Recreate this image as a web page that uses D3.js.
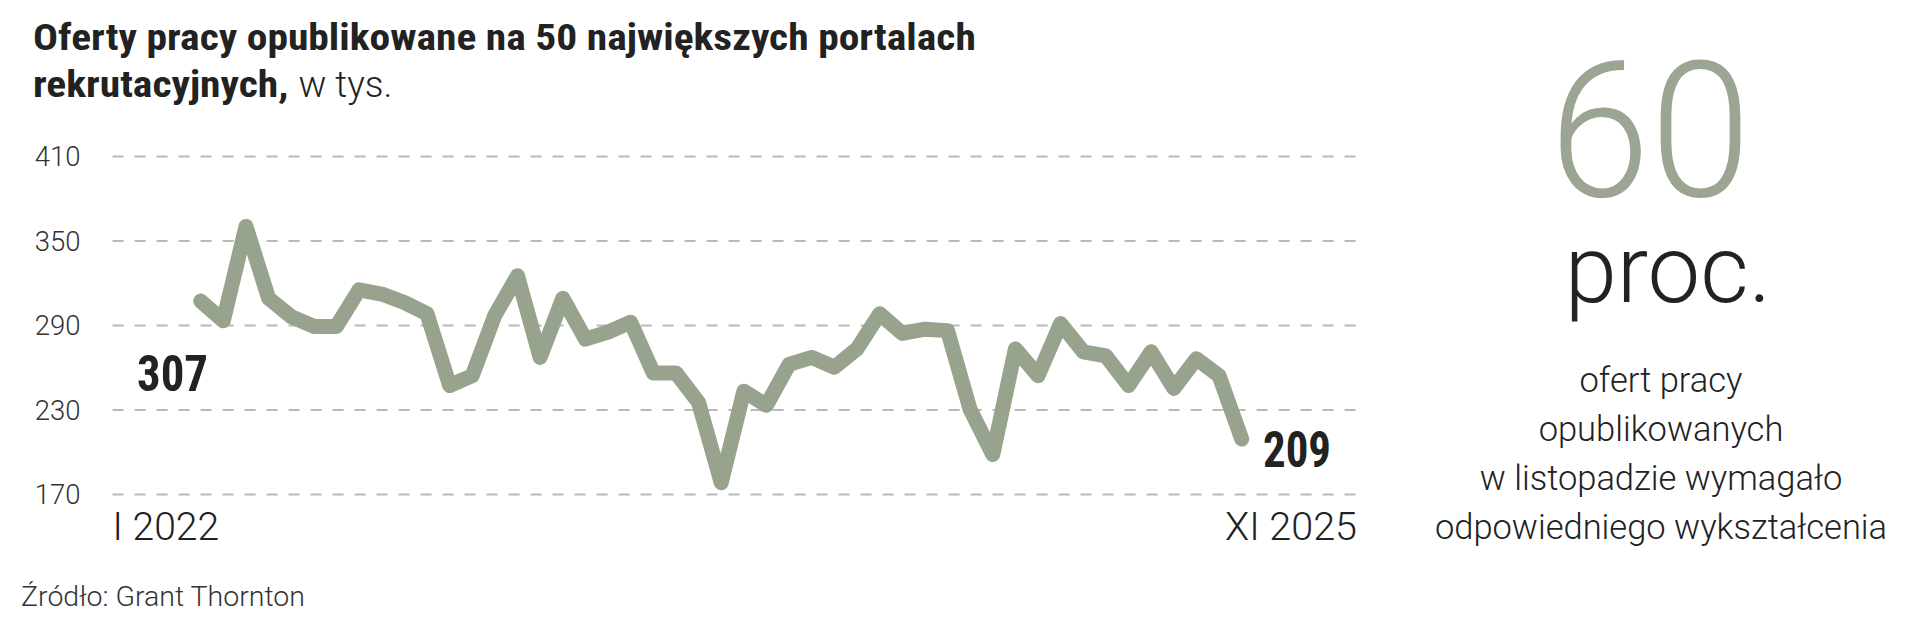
<!DOCTYPE html>
<html><head><meta charset="utf-8">
<script src="https://cdn.jsdelivr.net/npm/d3@7"></script>
<style>
html,body{margin:0;padding:0;background:#fff;}
svg{display:block;}
</style></head><body>
<svg id="chart" width="1920" height="624"></svg>
<script>
// ---- data ----
const romanMonths = ["I","II","III","IV","V","VI","VII","VIII","IX","X","XI","XII"];
const years = [2022, 2023, 2024, 2025];
const months = [];
years.forEach(y => romanMonths.forEach(m => { if (!(y === 2025 && m === "XII")) months.push(m + " " + y); }));
const values = [307, 293, 360, 309, 296, 289, 289, 315, 312, 306, 298, 247,
                254, 297, 325, 267, 309, 280, 285, 292, 256, 256, 235, 178,
                243, 233, 262, 267, 260, 273, 298, 284, 287, 286, 230, 198,
                273, 254, 291, 271, 268, 247, 271, 245, 266, 254, 209];
const yTicks = [170, 230, 290, 350, 410];
const xTickLabels = ["I 2022", "XI 2025"];
const endLabels = ["307", "209"];
const titleBold1 = "Oferty pracy opublikowane na 50 największych portalach";
const titleBold2 = "rekrutacyjnych,";
const titleLight2 = "w tys.";
const bigNumber = "60";
const bigUnit = "proc.";
const noteLines = ["ofert pracy", "opublikowanych", "w listopadzie wymagało", "odpowiedniego wykształcenia"];
const source = "Źródło: Grant Thornton";

// ---- styles ----
const LIGHT = "Roboto, 'Open Sans', sans-serif";
const BOLDC = "'Roboto Condensed', 'Liberation Sans Narrow', Roboto, sans-serif";
const lineColor = "#97a38c";
const textColor = "#222";

const svg = d3.select("#chart");

const gridLeft = 112.6, gridRight = 1357;
const x = d3.scalePoint().domain(months).range([200.7, 1241.7]);
const y = d3.scaleLinear().domain([170, 410]).range([494, 156]);

// fit helper: horizontally scale text to target width
function placeFit(sel, x0, y0, target) {
  const w = sel.node().getComputedTextLength();
  const s = target / w;
  sel.attr("x", 0).attr("y", 0).attr("transform", `translate(${x0},${y0}) scale(${s},1)`);
  return w * s;
}

// ---- title ----
const t1 = svg.append("text").text(titleBold1)
  .attr("font-family", BOLDC).attr("font-weight", 700).attr("font-size", 37).attr("fill", textColor);
const w1 = t1.node().getComputedTextLength();
const sT = 943 / w1;
placeFit(t1, 33, 50, 943);
const t2 = svg.append("text").text(titleBold2)
  .attr("font-family", BOLDC).attr("font-weight", 700).attr("font-size", 37).attr("fill", textColor);
const w2 = t2.node().getComputedTextLength() * sT;
placeFit(t2, 33, 97, w2);
svg.append("text").text(titleLight2)
  .attr("x", 33 + w2 + 10).attr("y", 97)
  .attr("font-family", LIGHT).attr("font-weight", 300).attr("font-size", 37).attr("fill", textColor);

// ---- y axis with gridlines ----
const yAxis = d3.axisLeft(y).tickValues(yTicks)
  .tickSize(-(gridRight - gridLeft)).tickPadding(32);
const gy = svg.append("g").attr("transform", `translate(${gridLeft},0)`).call(yAxis);
gy.select(".domain").remove();
gy.selectAll(".tick line")
  .attr("stroke", "#b9b9b9").attr("stroke-width", 2).attr("stroke-dasharray", "11,11");
gy.selectAll(".tick text")
  .attr("font-family", LIGHT).attr("font-weight", 300).attr("font-size", 27.5)
  .attr("fill", "#333").attr("dy", "0.36em");

// ---- x labels ----
svg.append("text").text(xTickLabels[0])
  .attr("x", gridLeft).attr("y", 540)
  .attr("font-family", LIGHT).attr("font-weight", 300).attr("font-size", 39).attr("fill", textColor);
svg.append("text").text(xTickLabels[1])
  .attr("x", gridRight).attr("y", 540).attr("text-anchor", "end")
  .attr("font-family", LIGHT).attr("font-weight", 300).attr("font-size", 39.5).attr("fill", textColor);

// ---- line ----
const line = d3.line().x((d, i) => x(months[i])).y(d => y(d));
svg.append("path").datum(values)
  .attr("d", line).attr("fill", "none")
  .attr("stroke", lineColor).attr("stroke-width", 15)
  .attr("stroke-linejoin", "round").attr("stroke-linecap", "round");

// ---- end labels ----
const l1 = svg.append("text").text(endLabels[0])
  .attr("font-family", BOLDC).attr("font-weight", 700).attr("font-size", 50).attr("fill", textColor);
placeFit(l1, 137, 391, 71);
const l2 = svg.append("text").text(endLabels[1])
  .attr("font-family", BOLDC).attr("font-weight", 700).attr("font-size", 50).attr("fill", textColor);
placeFit(l2, 1263, 467, 68);

// ---- right note ----
const big = svg.append("text").text(bigNumber)
  .attr("font-family", LIGHT).attr("font-weight", 300).attr("font-size", 190).attr("fill", "#9ba592");
placeFit(big, 1549, 196, 202);
svg.append("text").text(bigUnit)
  .attr("x", 1668).attr("y", 302).attr("text-anchor", "middle")
  .attr("font-family", LIGHT).attr("font-weight", 300).attr("font-size", 94).attr("fill", textColor);
svg.append("g").selectAll("text").data(noteLines).join("text")
  .text(d => d)
  .attr("x", 1661).attr("y", (d, i) => 392 + i * 49).attr("text-anchor", "middle")
  .attr("font-family", LIGHT).attr("font-weight", 300).attr("font-size", 34.5).attr("fill", textColor);

// ---- source ----
svg.append("text").text(source)
  .attr("x", 21).attr("y", 606)
  .attr("font-family", LIGHT).attr("font-weight", 300).attr("font-size", 28.5).attr("fill", "#333");
</script>
</body></html>
